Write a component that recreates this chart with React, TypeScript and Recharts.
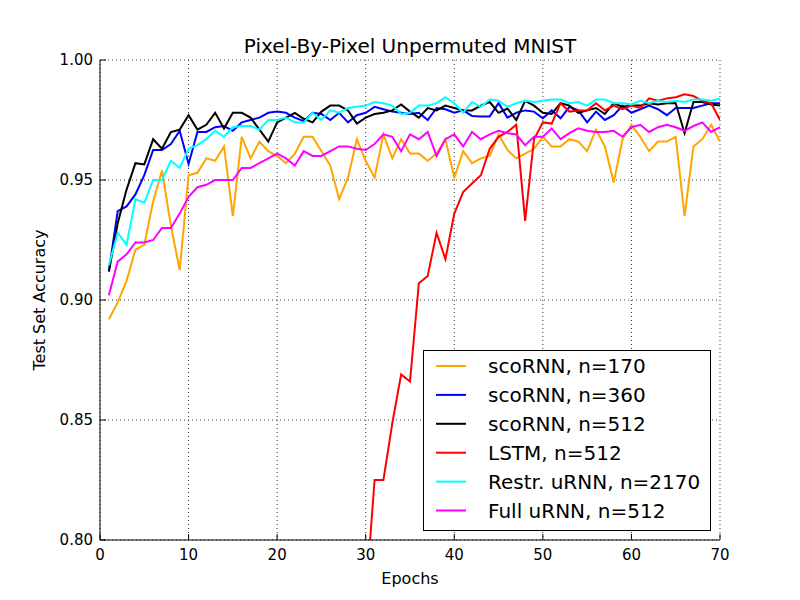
import { LineChart, Line, XAxis, YAxis, CartesianGrid } from 'recharts';

const epochs = [
  1, 2, 3, 4, 5, 6, 7, 8, 9, 10, 11, 12, 13, 14, 15, 16, 17, 18, 19, 20,
  21, 22, 23, 24, 25, 26, 27, 28, 29, 30, 31, 32, 33, 34, 35, 36, 37, 38, 39, 40,
  41, 42, 43, 44, 45, 46, 47, 48, 49, 50, 51, 52, 53, 54, 55, 56, 57, 58, 59, 60,
  61, 62, 63, 64, 65, 66, 67, 68, 69, 70,
];

const scoRNN170 = [
  0.892, 0.899, 0.908, 0.921, 0.923, 0.941, 0.954, 0.931, 0.9125, 0.952,
  0.953, 0.959, 0.958, 0.964, 0.935, 0.968, 0.959, 0.966, 0.962, 0.96,
  0.957, 0.961, 0.968, 0.968, 0.962, 0.956, 0.942, 0.951, 0.967, 0.958,
  0.951, 0.969, 0.959, 0.967, 0.961, 0.961, 0.958, 0.961, 0.967, 0.951,
  0.962, 0.957, 0.959, 0.96, 0.969, 0.9625, 0.959, 0.961, 0.963, 0.968,
  0.964, 0.964, 0.967, 0.966, 0.962, 0.971, 0.964, 0.949, 0.967, 0.973,
  0.968, 0.962, 0.966, 0.966, 0.968, 0.935, 0.964, 0.967, 0.973, 0.966,
];

const scoRNN360 = [
  0.912, 0.937, 0.939, 0.944, 0.952, 0.9625, 0.9625, 0.965, 0.9705, 0.9567,
  0.97, 0.97, 0.972, 0.9725, 0.9705, 0.974, 0.975, 0.976, 0.978, 0.9785,
  0.978, 0.976, 0.9745, 0.978, 0.9775, 0.975, 0.978, 0.974, 0.977, 0.978,
  0.9805, 0.9795, 0.9785, 0.978, 0.9775, 0.978, 0.975, 0.98, 0.9795, 0.978,
  0.979, 0.9767, 0.9765, 0.9765, 0.982, 0.976, 0.978, 0.979, 0.9785, 0.9757,
  0.979, 0.9757, 0.9805, 0.979, 0.974, 0.9785, 0.975, 0.977, 0.981, 0.978,
  0.9795, 0.981, 0.9795, 0.977, 0.98, 0.98, 0.98, 0.981, 0.982, 0.982,
];

const scoRNN512 = [
  0.9118, 0.932, 0.946, 0.957, 0.9565, 0.967, 0.963, 0.97, 0.971, 0.977,
  0.971, 0.973, 0.978, 0.9715, 0.978, 0.978, 0.976, 0.971, 0.966, 0.974,
  0.976, 0.978, 0.9755, 0.974, 0.9785, 0.981, 0.981, 0.979, 0.9735, 0.976,
  0.9775, 0.978, 0.979, 0.9815, 0.9785, 0.976, 0.98, 0.979, 0.981, 0.98,
  0.979, 0.979, 0.981, 0.9825, 0.978, 0.9798, 0.975, 0.983, 0.981, 0.978,
  0.9775, 0.982, 0.981, 0.978, 0.979, 0.98, 0.9775, 0.982, 0.9805, 0.981,
  0.981, 0.982, 0.9815, 0.982, 0.982, 0.9695, 0.9825, 0.9825, 0.9815, 0.981,
];

// LSTM stays below 0.80 until epoch 30
const lstm512 = [
  null, null, null, null, null, null, null, null, null, null,
  null, null, null, null, null, null, null, null, null, null,
  null, null, null, null, null, null, null, null, null, 0.775,
  0.825, 0.825, 0.8486, 0.869, 0.866, 0.907, 0.91, 0.928, 0.917, 0.936,
  0.945, 0.9485, 0.952, 0.963, 0.968, 0.97, 0.973, 0.933, 0.967, 0.974,
  0.9735, 0.982, 0.9785, 0.979, 0.979, 0.982, 0.979, 0.981, 0.9795, 0.981,
  0.98, 0.984, 0.983, 0.984, 0.9845, 0.9857, 0.985, 0.983, 0.982, 0.975,
];

const restrURNN2170 = [
  0.9145, 0.928, 0.923, 0.942, 0.9405, 0.95, 0.95, 0.958, 0.955, 0.963,
  0.9645, 0.967, 0.9705, 0.968, 0.972, 0.9725, 0.9725, 0.971, 0.975, 0.975,
  0.976, 0.974, 0.974, 0.978, 0.975, 0.979, 0.978, 0.98, 0.9805, 0.981,
  0.9825, 0.982, 0.981, 0.9775, 0.978, 0.981, 0.981, 0.982, 0.9845, 0.982,
  0.978, 0.9825, 0.9805, 0.9835, 0.983, 0.9805, 0.982, 0.983, 0.9825, 0.983,
  0.9835, 0.9835, 0.982, 0.9825, 0.981, 0.9835, 0.9835, 0.982, 0.982, 0.9815,
  0.983, 0.982, 0.983, 0.9825, 0.983, 0.9825, 0.9835, 0.9835, 0.983, 0.984,
];

const fullURNN512 = [
  0.902, 0.916, 0.919, 0.924, 0.924, 0.925, 0.93, 0.93, 0.936, 0.943,
  0.947, 0.948, 0.95, 0.95, 0.95, 0.955, 0.955, 0.957, 0.959, 0.961,
  0.959, 0.956, 0.962, 0.96, 0.96, 0.962, 0.964, 0.964, 0.963, 0.9625,
  0.965, 0.969, 0.968, 0.962, 0.969, 0.967, 0.97, 0.96, 0.967, 0.969,
  0.964, 0.97, 0.967, 0.969, 0.9705, 0.9695, 0.969, 0.9645, 0.968, 0.968,
  0.9715, 0.967, 0.9695, 0.9715, 0.9705, 0.97, 0.97, 0.9705, 0.968, 0.972,
  0.973, 0.97, 0.972, 0.973, 0.972, 0.9705, 0.9725, 0.974, 0.97, 0.972,
];

const xTicks = [0, 10, 20, 30, 40, 50, 60, 70];
const yTicks = [0.8, 0.85, 0.9, 0.95, 1.0];

const series = [
  { key: 'orange', name: 'scoRNN, n=170', color: '#ffa500', values: scoRNN170 },
  { key: 'blue', name: 'scoRNN, n=360', color: '#0000ff', values: scoRNN360 },
  { key: 'black', name: 'scoRNN, n=512', color: '#000000', values: scoRNN512 },
  { key: 'red', name: 'LSTM, n=512', color: '#ff0000', values: lstm512 },
  { key: 'cyan', name: 'Restr. uRNN, n=2170', color: '#00ffff', values: restrURNN2170 },
  { key: 'magenta', name: 'Full uRNN, n=512', color: '#ff00ff', values: fullURNN512 },
];

const data = epochs.map((epoch, i) => {
  const row: Record<string, number | null> = { epoch };
  series.forEach((s) => {
    row[s.key] = s.values[i];
  });
  return row;
});

const FONT = 'DejaVu Sans';
const tickStyle = { fill: '#000', fontSize: 15, fontFamily: FONT };

export default function App() {
  return (
    <div style={{ position: 'absolute', left: 0, top: 0, width: 800, height: 600, background: '#fff' }}>
      <LineChart width={800} height={600} data={data} margin={{ top: 60, right: 80, bottom: 0, left: 40 }}>
        <CartesianGrid stroke="#000" strokeDasharray="1 3" strokeWidth={0.8} />
        <XAxis
          dataKey="epoch"
          type="number"
          domain={[0, 70]}
          ticks={xTicks}
          height={60}
          tickSize={-6}
          tickMargin={15}
          axisLine={{ stroke: '#000' }}
          tickLine={{ stroke: '#000' }}
          tick={tickStyle}
          allowDataOverflow
        />
        <XAxis
          xAxisId="top"
          orientation="top"
          type="number"
          domain={[0, 70]}
          ticks={xTicks}
          height={0}
          tickSize={-6}
          tick={false}
          axisLine={{ stroke: '#000' }}
          tickLine={{ stroke: '#000' }}
        />
        <YAxis
          type="number"
          domain={[0.8, 1]}
          ticks={yTicks}
          width={60}
          tickSize={-6}
          tickMargin={13}
          tickFormatter={(v: number) => v.toFixed(2)}
          axisLine={{ stroke: '#000' }}
          tickLine={{ stroke: '#000' }}
          tick={tickStyle}
          allowDataOverflow
        />
        <YAxis
          yAxisId="right"
          orientation="right"
          type="number"
          domain={[0.8, 1]}
          ticks={yTicks}
          width={0}
          tickSize={-6}
          tick={false}
          axisLine={{ stroke: '#000' }}
          tickLine={{ stroke: '#000' }}
        />
        {series.map((s) => (
          <Line
            key={s.key}
            dataKey={s.key}
            name={s.name}
            type="linear"
            stroke={s.color}
            strokeWidth={2}
            dot={false}
            isAnimationActive={false}
          />
        ))}
      </LineChart>

      <svg
        width={800}
        height={600}
        style={{ position: 'absolute', left: 0, top: 0, pointerEvents: 'none' }}
        fontFamily={FONT}
      >
        <text x={410} y={53} textAnchor="middle" fontSize={20} fill="#000">
          Pixel-By-Pixel Unpermuted MNIST
        </text>
        <text x={410} y={584} textAnchor="middle" fontSize={16} fill="#000">
          Epochs
        </text>
        <text x={45} y={300} textAnchor="middle" fontSize={16} fill="#000" transform="rotate(-90, 45, 300)">
          Test Set Accuracy
        </text>

        <rect x={423.5} y={350.5} width={287} height={180} fill="#fff" stroke="#000" strokeWidth={1} />
        {series.map((s, i) => (
          <g key={s.key}>
            <line x1={436} x2={466} y1={366 + 28.9 * i} y2={366 + 28.9 * i} stroke={s.color} strokeWidth={2} />
            <text x={488} y={373.3 + 28.9 * i} fontSize={20} fill="#000">
              {s.name}
            </text>
          </g>
        ))}
      </svg>
    </div>
  );
}
